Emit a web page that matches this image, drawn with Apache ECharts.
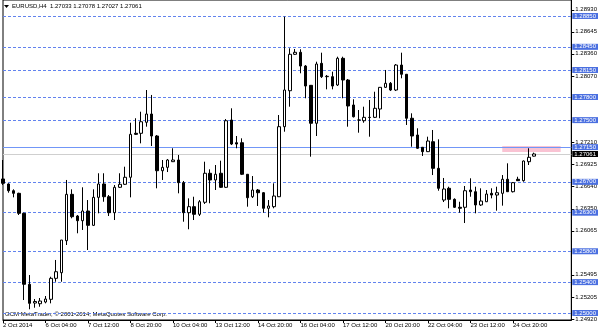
<!DOCTYPE html>
<html>
<head>
<meta charset="utf-8">
<script src="https://cdn.jsdelivr.net/npm/echarts@6/dist/echarts.min.js"></script>
<style>html,body{margin:0;padding:0;background:#fff}#c{width:600px;height:333px}</style>
</head>
<body>
<div id="c"></div>
<script>
// EURUSD H4 bars (bar 0 = 2 Oct 2014 20:00)
const opens  = [1.26737,1.26672,1.26585,1.26551,1.26292,1.25372,1.25129,1.25120,1.25142,1.25177,
                1.25449,1.25522,1.25937,1.26538,1.26257,1.26196,1.26322,1.26136,1.26499,1.26672,
                1.26507,1.26300,1.26629,1.26668,1.26759,1.27329,1.27329,1.27472,1.27579,1.27294,
                1.26844,1.26888,1.26961,1.26983,1.26689,1.26300,1.26378,1.26279,1.26435,1.26811,
                1.26724,1.26811,1.26629,1.27501,1.27207,1.27207,1.26798,1.26507,1.26594,1.26559,
                1.26357,1.26378,1.26507,1.27415,1.27881,1.28353,1.28379,1.28201,1.27951,1.27459,
                1.28236,1.28063,1.28063,1.27955,1.28301,1.28020,1.27696,1.27501,1.27492,1.27536,
                1.27536,1.27644,1.27925,1.27977,1.27890,1.28214,1.28094,1.27524,1.27307,1.27148,
                1.27091,1.27220,1.26875,1.26464,1.26616,1.26473,1.26370,1.26370,1.26594,1.26572,
                1.26400,1.26442,1.26551,1.26529,1.26551,1.26733,1.26572,1.26733,1.26715,1.26961,
                1.27033];
const highs  = [1.26983,1.26681,1.26603,1.26559,1.26300,1.25492,1.25181,1.25194,1.25220,1.25470,
                1.25687,1.25946,1.26724,1.26603,1.26270,1.26629,1.26464,1.26603,1.26811,1.26811,
                1.26529,1.26659,1.26811,1.26896,1.27466,1.27524,1.27609,1.27890,1.27826,1.27307,
                1.26983,1.26996,1.27135,1.27048,1.26711,1.26486,1.26507,1.26464,1.26961,1.26862,
                1.26918,1.26974,1.27514,1.27653,1.27294,1.27264,1.26801,1.26775,1.26607,1.26568,
                1.26464,1.26681,1.27566,1.28841,1.28431,1.28422,1.28418,1.28214,1.27955,1.28257,
                1.28374,1.28085,1.28128,1.28322,1.28322,1.28033,1.27770,1.27631,1.27674,1.27761,
                1.27868,1.27929,1.28150,1.27994,1.28227,1.28374,1.28098,1.27588,1.27394,1.27151,
                1.27285,1.27372,1.27251,1.26750,1.26637,1.26486,1.26442,1.26646,1.26746,1.26637,
                1.26616,1.26594,1.26616,1.26637,1.26788,1.26940,1.26698,1.26766,1.26976,1.27135,
                1.27078];
const lows   = [1.26659,1.26559,1.26499,1.26270,1.25168,1.25048,1.25068,1.25081,1.25125,1.25125,
                1.25405,1.25405,1.25881,1.26227,1.26033,1.26076,1.25816,1.26127,1.26292,1.26442,
                1.26257,1.26205,1.26620,1.26659,1.26499,1.27307,1.27199,1.27415,1.27164,1.26616,
                1.26724,1.26827,1.26957,1.26551,1.26183,1.26085,1.26205,1.26257,1.26413,1.26422,
                1.26594,1.26620,1.26620,1.27177,1.27135,1.26788,1.26378,1.26490,1.26387,1.26300,
                1.26240,1.26357,1.26503,1.27350,1.27674,1.28344,1.28107,1.27783,1.27026,1.27294,
                1.28046,1.27899,1.27899,1.27942,1.27783,1.27415,1.27534,1.27337,1.27466,1.27285,
                1.27527,1.27524,1.27916,1.27877,1.27877,1.28042,1.27437,1.27155,1.27126,1.27035,
                1.27087,1.26788,1.26585,1.26438,1.26357,1.26361,1.26300,1.26166,1.26507,1.26292,
                1.26387,1.26438,1.26486,1.26326,1.26391,1.26568,1.26562,1.26711,1.26702,1.26918,
                1.27027];
const closes = [1.26681,1.26585,1.26551,1.26292,1.25372,1.25125,1.25149,1.25155,1.25181,1.25449,
                1.25535,1.25946,1.26538,1.26248,1.26196,1.26322,1.26136,1.26499,1.26672,1.26507,
                1.26300,1.26629,1.26668,1.26759,1.27316,1.27316,1.27479,1.27579,1.27294,1.26844,
                1.26888,1.26983,1.26983,1.26689,1.26300,1.26378,1.26279,1.26442,1.26811,1.26724,
                1.26798,1.26629,1.27492,1.27190,1.27190,1.26798,1.26494,1.26594,1.26559,1.26357,
                1.26387,1.26516,1.27415,1.27890,1.28353,1.28379,1.28201,1.27942,1.27459,1.28227,
                1.28063,1.28068,1.27942,1.28301,1.28020,1.27683,1.27544,1.27501,1.27536,1.27534,
                1.27653,1.27925,1.27977,1.27890,1.28214,1.28094,1.27524,1.27294,1.27135,1.27091,
                1.27229,1.26875,1.26616,1.26607,1.26473,1.26370,1.26357,1.26585,1.26572,1.26400,
                1.26451,1.26542,1.26529,1.26559,1.26733,1.26572,1.26689,1.26715,1.26970,1.27018,
                1.27061];

const timeTicks = ["2 Oct 2014","6 Oct 04:00","7 Oct 12:00","8 Oct 20:00","10 Oct 04:00",
                   "13 Oct 12:00","14 Oct 20:00","16 Oct 04:00","17 Oct 12:00","20 Oct 20:00",
                   "22 Oct 04:00","23 Oct 12:00","24 Oct 20:00"];
const priceTicks = [1.28930,1.28645,1.28360,1.28070,1.27210,1.26925,1.26640,1.26350,1.26065,1.25495,1.25205,1.24920];
const levels = [1.2885,1.2845,1.2815,1.2780,1.2750,1.2670,1.2630,1.2580,1.2540,1.2500];
const blueLevel = 1.2715;
const bidPrice = 1.27061;
const header = "EURUSD,H4  1.27033 1.27078 1.27027 1.27061";
const rectBox = {fromBar: 94, toBar: 105, top: 1.27165, bottom: 1.27087};

const SLOTS = 108;
const categories = Array.from({length: SLOTS}, (_, i) => 'b' + i);
const candles = opens.map((o, i) => [o, closes[i], lows[i], highs[i]]);
const FONT = 'Liberation Sans';

function lvl(v, lineColor, type, bg) {
  return {
    yAxis: v,
    lineStyle: {color: lineColor, type: type, width: 1},
    label: {show: true, position: 'end', distance: 1, formatter: v.toFixed(5),
            color: '#fff', backgroundColor: bg, fontSize: 6, fontFamily: FONT,
            lineHeight: 6, padding: [0, 2, 0, 2]}
  };
}
const mlData = levels.map(v => lvl(v, '#6283ee', [3, 2], '#4a6fe0'));
mlData.push(lvl(blueLevel, '#7196f7', 'solid', '#4a6fe0'));
mlData.push(lvl(bidPrice, '#cfcfcf', 'solid', '#000'));

const tickShown = (i) => i % 8 === 0 && i / 8 < timeTicks.length;

const chart = echarts.init(document.getElementById('c'), null, {renderer: 'canvas'});
chart.setOption({
  animation: false,
  backgroundColor: '#fff',
  grid: {left: 1.5, right: 28, top: 0, bottom: 13, show: true, borderColor: '#000', borderWidth: 1},
  xAxis: {
    type: 'category', data: categories, boundaryGap: false,
    axisLine: {show: true, lineStyle: {color: '#000'}},
    axisTick: {show: true, interval: tickShown, length: 3, lineStyle: {color: '#000'}},
    axisLabel: {interval: tickShown, formatter: (v, i) => timeTicks[i / 8] || '',
                align: 'left', margin: 2, fontSize: 6, fontFamily: FONT, color: '#000'},
    splitLine: {show: false}
  },
  yAxis: {
    type: 'value', position: 'right', min: 1.24909, max: 1.29057,
    axisLine: {show: true, lineStyle: {color: '#000'}},
    axisTick: {show: true, length: 3, customValues: priceTicks, lineStyle: {color: '#000'}},
    axisLabel: {customValues: priceTicks, formatter: v => v.toFixed(5), margin: 4,
                fontSize: 6, fontFamily: FONT, color: '#000'},
    splitLine: {show: false}
  },
  graphic: [
    {type: 'polygon', shape: {points: [[4, 5], [9, 5], [6.5, 8]]}, style: {fill: '#000'}},
    {type: 'text', left: 12, top: 3, style: {text: header, fontSize: 6, fontFamily: FONT, fill: '#000'}},
    {type: 'text', left: 5, top: 311, style: {text: 'GCM MetaTrader, © 2001-2014, MetaQuotes Software Corp.',
      fontSize: 6, fontFamily: FONT, fill: '#000'}}
  ],
  series: [
    {
      type: 'candlestick', data: candles, z: 3, barWidth: 3,
      itemStyle: {color: '#fff', color0: '#000', borderColor: '#000', borderColor0: '#000', borderWidth: 1},
      markLine: {silent: true, symbol: ['none', 'none'], z: 1, precision: 5, data: mlData, animation: false},
      markArea: {silent: true, z: 1, itemStyle: {color: '#f9c3d3'},
        data: [[{xAxis: rectBox.fromBar, yAxis: rectBox.top}, {xAxis: rectBox.toBar, yAxis: rectBox.bottom}]]}
    }
  ]
});
</script>
</body>
</html>
